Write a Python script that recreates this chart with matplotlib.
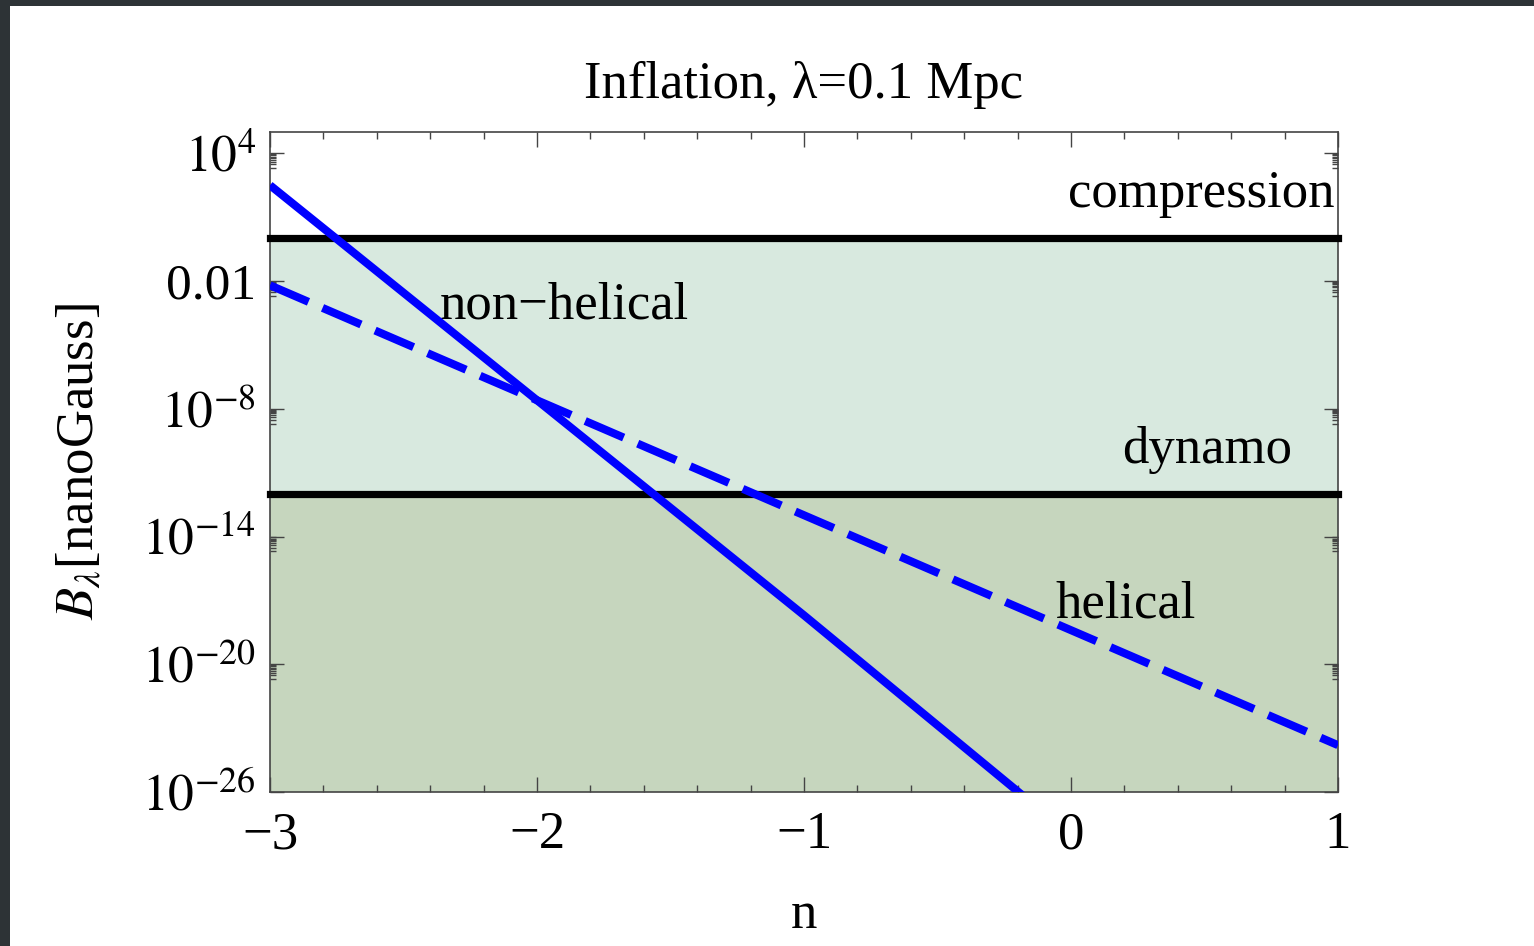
import numpy as np
import matplotlib.pyplot as plt
from matplotlib.patches import Rectangle
from matplotlib.ticker import FixedLocator

plt.rcParams['font.family'] = ['Liberation Serif', 'DejaVu Serif']
plt.rcParams['mathtext.fontset'] = 'stix'

# Field strength curves, log10(B / nG) against spectral index n
n_nonhelical = [-3.0, -2.0, -1.0, -0.1]
logB_nonhelical = [2.5, -7.6, -17.7, -27.0]
n_helical = [-3.0, -2.0, -1.0, 0.0, 1.0]
logB_helical = [-2.2, -7.6, -13.0, -18.4, -23.8]

# Horizontal limits (nG)
compression_level = 1.0
dynamo_level = 1e-12

# Axis ticks
x_ticks = [-3, -2, -1, 0, 1]
x_labels = ['\u22123', '\u22122', '\u22121', '0', '1']
y_exps = [4, -2, -8, -14, -20, -26]
y_labels = [r'$10^{4}$', '0.01', r'$10^{-8}$', r'$10^{-14}$', r'$10^{-20}$', r'$10^{-26}$']

W, H = 1534, 946
fig = plt.figure(figsize=(W / 100, H / 100), dpi=100, facecolor='#2d3336')
# white slide area
fig.patches.append(Rectangle((10 / W, 0), 1, (H - 6) / H, transform=fig.transFigure,
                             facecolor='white', edgecolor='none', zorder=-5))

ax = fig.add_axes([270 / W, (H - 792) / H, 1068 / W, 660 / H])
ax.set_facecolor('white')
ax.set_yscale('log')
ax.set_xlim(-3, 1)
ax.set_ylim(1e-26, 1e5)

ax.axhspan(dynamo_level, compression_level, color='#d8e9df', lw=0, zorder=0)
ax.axhspan(1e-26, dynamo_level, color='#c6d6be', lw=0, zorder=0)
ax.axhline(compression_level, color='black', lw=5.2, zorder=3, clip_on=False)
ax.axhline(dynamo_level, color='black', lw=5.2, zorder=3, clip_on=False)

ax.plot(n_nonhelical, 10.0 ** np.array(logB_nonhelical), color='#0000ff', lw=5.8,
        solid_capstyle='butt', zorder=4)
ax.plot(n_helical, 10.0 ** np.array(logB_helical), color='#0000ff', lw=5.8,
        dashes=(5.2, 1.9), dash_capstyle='butt', zorder=4)

fs = 38
ax.text(0.997, 0.886, 'compression', transform=ax.transAxes, ha='right', va='baseline', fontsize=fs)
ax.text(0.159, 0.718, 'non\u2212helical', transform=ax.transAxes, ha='left', va='baseline', fontsize=fs)
ax.text(0.798, 0.498, 'dynamo', transform=ax.transAxes, ha='left', va='baseline', fontsize=fs)
ax.text(0.735, 0.265, 'helical', transform=ax.transAxes, ha='left', va='baseline', fontsize=fs)

# ticks
ax.set_xticks(x_ticks)
ax.set_xticklabels(x_labels)
ax.xaxis.set_minor_locator(FixedLocator(np.arange(-3, 1.001, 0.2)))
ax.set_yticks([10.0 ** e for e in y_exps])
ax.set_yticklabels(y_labels)
minor_y = [k * 10.0 ** (e - 1) for e in y_exps for k in range(2, 10)]
ax.yaxis.set_minor_locator(FixedLocator(minor_y))
ax.tick_params(which='both', direction='in', top=True, right=True, colors='#444444',
               labelcolor='black', labelsize=fs, width=1)
ax.tick_params(axis='y', which='major', labelsize=37)
ax.tick_params(axis='x', which='major', length=11, pad=14)
ax.tick_params(axis='x', which='minor', length=5)
ax.tick_params(axis='y', which='major', length=10, pad=10)
ax.tick_params(axis='y', which='minor', length=4)
for s in ax.spines.values():
    s.set_color('#444444')
    s.set_linewidth(1.2)

fig.text(804 / W, (H - 85) / H, 'Inflation, \u03bb=0.1 Mpc', ha='center', va='center', fontsize=fs)
fig.text(804 / W, (H - 915) / H, 'n', ha='center', va='center', fontsize=fs)
fig.text(80 / W, (H - 462) / H, r'$B_\lambda$[nanoGauss]', ha='center', va='center',
         rotation=90, fontsize=fs)

fig.savefig('out.png', dpi=100, facecolor=fig.get_facecolor())
